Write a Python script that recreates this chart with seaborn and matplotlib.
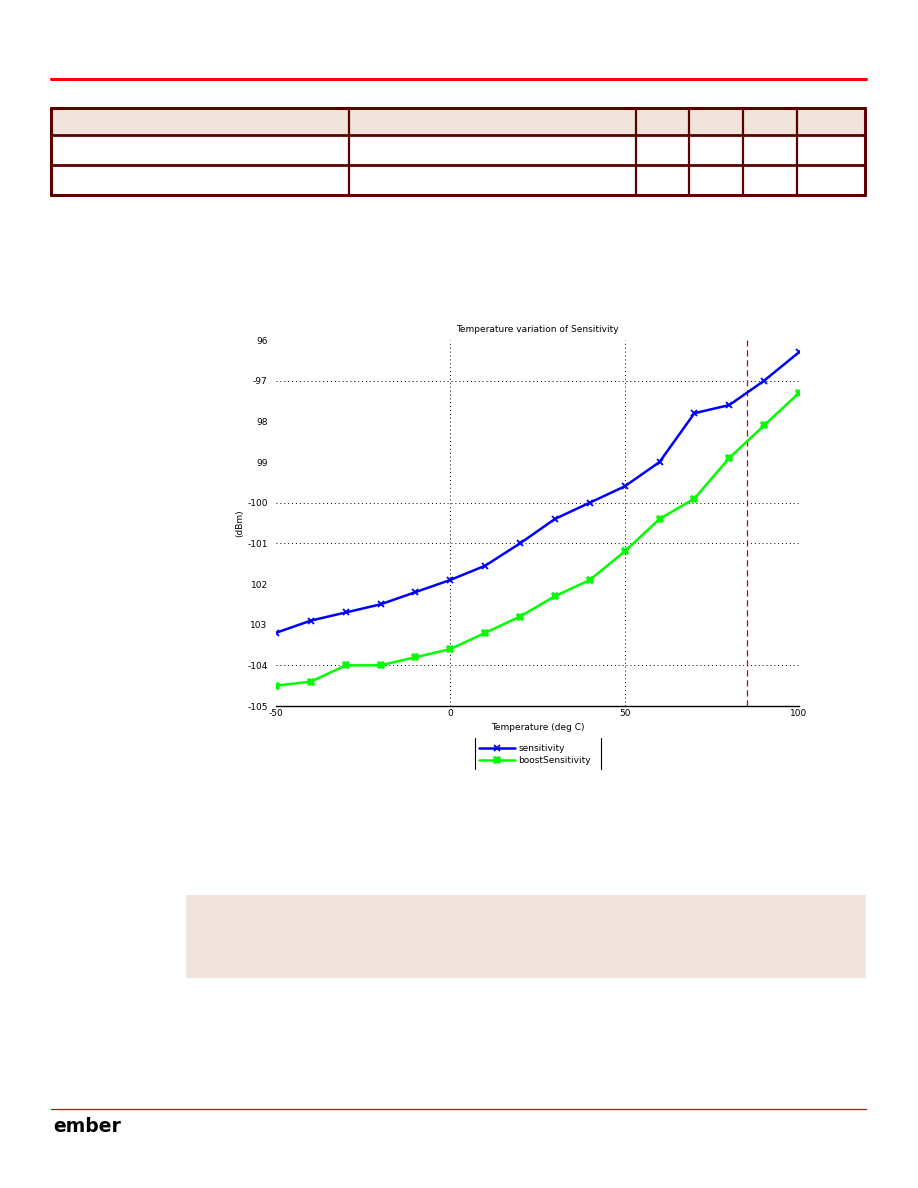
import numpy as np
import pandas as pd
import matplotlib
matplotlib.use("Agg")
import matplotlib.pyplot as plt
import seaborn as sns
from matplotlib.patches import Rectangle
from matplotlib.lines import Line2D

# ---- data ----
temperature = [-50, -40, -30, -20, -10, 0, 10, 20, 30, 40, 50, 60, 70, 80, 90, 100]
sensitivity = [-103.2, -102.9, -102.7, -102.5, -102.2, -101.9, -101.55, -101.0,
               -100.4, -100.0, -99.6, -99.0, -97.8, -97.6, -97.0, -96.3]
boost_sensitivity = [-104.5, -104.4, -104.0, -104.0, -103.8, -103.6, -103.2, -102.8,
                     -102.3, -101.9, -101.2, -100.4, -99.9, -98.9, -98.1, -97.3]
y_ticks = [-105, -104, -103, -102, -101, -100, -99, -98, -97, -96]
y_tick_labels = ['-105', '-104', '103', '102', '-101', '-100', '99', '98', '-97', '96']
x_ticks = [-50, 0, 50, 100]
x_tick_labels = ['-50', '0', '50', '100']
series_names = ['sensitivity', 'boostSensitivity']
series_colors = ['#0000ff', '#00ff00']
series_markers = ['x', 'X']
limit_temp = 85

sns.set_style("white")
plt.rcParams['font.family'] = ['DejaVu Sans']
plt.rcParams['text.color'] = 'black'
plt.rcParams['axes.labelcolor'] = 'black'
plt.rcParams['xtick.color'] = 'black'
plt.rcParams['ytick.color'] = 'black'

W, H = 918, 1188
fig = plt.figure(figsize=(W / 100, H / 100), dpi=100)

def fx(px):
    return px / W

def fy(py):
    return 1 - py / H

# ---- page decorations ----
maroon = '#5c0000'
beige = '#f0e4dc'
fig.add_artist(Line2D([fx(51), fx(866)], [fy(79), fy(79)], color='#ff0000', lw=2.2))
fig.add_artist(Rectangle((fx(51), fy(135)), fx(865) - fx(51), fy(108) - fy(135),
                         facecolor=beige, edgecolor='none'))
for yy, lw in [(108, 2.2), (135, 2.0), (165, 2.0), (195, 2.2)]:
    fig.add_artist(Line2D([fx(51), fx(865)], [fy(yy), fy(yy)], color=maroon, lw=lw))
for xx, lw in [(51, 2.2), (349, 1.6), (636, 1.6), (689, 1.6), (743, 1.6), (797, 1.6), (865, 2.2)]:
    fig.add_artist(Line2D([fx(xx), fx(xx)], [fy(108), fy(195)], color=maroon, lw=lw))
fig.add_artist(Rectangle((fx(186), fy(978)), fx(866) - fx(186), fy(895) - fy(978),
                         facecolor=beige, edgecolor='none'))
fig.add_artist(Line2D([fx(51), fx(866)], [fy(1109), fy(1109)], color='#dd0000', lw=0.9))
fig.text(fx(53), fy(1127), 'ember', fontsize=13.5, fontweight='bold', va='center', ha='left',
         color='black')

# ---- chart ----
ax = fig.add_axes([fx(276), fy(706), fx(799) - fx(276), fy(340) - fy(706)])
for vals, name, col, mk in zip([sensitivity, boost_sensitivity], series_names,
                               series_colors, series_markers):
    sns.lineplot(x=temperature, y=vals, color=col, marker=mk, linewidth=1.8,
                 markersize=5, markeredgewidth=1.3, markeredgecolor=col,
                 ax=ax, label=name, legend=False)

ax.set_xlim(-50, 100)
ax.set_ylim(-105, -96)
ax.set_xticks(x_ticks)
ax.set_xticklabels(x_tick_labels, fontsize=6.5)
ax.set_yticks(y_ticks)
ax.set_yticklabels(y_tick_labels, fontsize=6.5)
ax.tick_params(axis='x', length=4, width=0.8, pad=2, direction='in')
ax.tick_params(axis='y', length=5, width=0.8, pad=1, direction='out')

for gy in [-97, -100, -101, -104]:
    ax.axhline(gy, color='black', lw=0.7, ls=(0, (1, 3)), zorder=0)
for gx in [0, 50]:
    ax.axvline(gx, color='black', lw=0.7, ls=(0, (1, 3)), zorder=0)
ax.axvline(limit_temp, color='#d00000', lw=0.9, ls=(0, (5, 3)), zorder=1)

for s in ['top', 'right', 'left']:
    ax.spines[s].set_visible(False)
ax.spines['bottom'].set_linewidth(1.0)
ax.spines['bottom'].set_color('black')

ax.set_title('Temperature variation of Sensitivity', fontsize=6.5, pad=6, color='black')
ax.set_xlabel('Temperature (deg C)', fontsize=6.5, labelpad=4)
ax.set_ylabel('(dBm)', fontsize=6.5, labelpad=2)

handles = [Line2D([], [], color=c, marker=m, lw=1.8, markersize=5, mew=1.3)
           for c, m in zip(series_colors, series_markers)]
leg = ax.legend(handles, series_names, loc='upper center', bbox_to_anchor=(0.495, -0.085),
                fontsize=6.5, frameon=False, handlelength=4.0,
                borderpad=0.3, labelspacing=0.35, handletextpad=0.4)
# legend box drawn with only side rules, as in the reference
fig.add_artist(Line2D([fx(475), fx(475)], [fy(738), fy(769)], color='black', lw=0.8))
fig.add_artist(Line2D([fx(601), fx(601)], [fy(738), fy(769)], color='black', lw=0.8))

fig.savefig('out.png', dpi=100)
